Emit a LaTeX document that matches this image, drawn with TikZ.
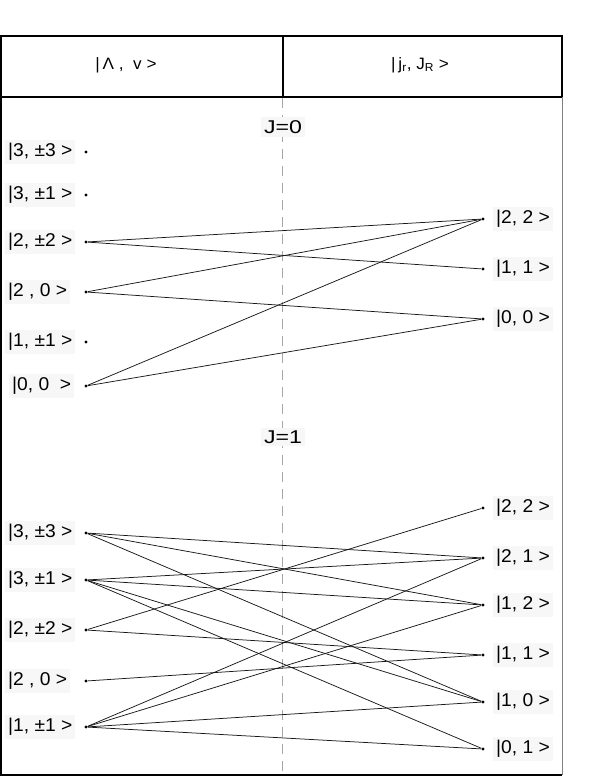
\documentclass[tikz,border=0pt]{standalone}
\usepackage{fontspec}
\setmainfont{Liberation Sans}
\newcommand{\wid}[1]{\scalebox{1.04}[1]{#1}}
\newcommand{\widJ}[1]{\scalebox{1.25}[1]{#1}}
\begin{document}
\begin{tikzpicture}[x=1pt,y=-1pt,
  dot/.style={circle,fill=black,inner sep=0pt,minimum size=3.2pt},
  lab/.style={fill=black!3,inner sep=3pt,font=\fontsize{18.5}{21}\selectfont},
  llab/.style={lab,anchor=west},
  rlab/.style={lab,anchor=west},
  hlab/.style={font=\fontsize{16.5}{18}\selectfont},
  conn/.style={line width=0.75pt,black!90}]
\useasboundingbox (0,0) rectangle (599,776);
% frame
\draw[line width=1.2pt] (1,36) rectangle (562,97);
\draw[line width=1.2pt] (283,36) -- (283,97);
\draw[line width=1.2pt] (1,97) -- (1,775) -- (562,775);
\draw[line width=0.8pt,black!50] (562,97) -- (562,775);
\draw[black!35,dashed,dash pattern=on 10pt off 7pt,line width=0.6pt] (282,98) -- (282,775);
\node[hlab] (h1) at (126,65) {\wid{|\,Λ ,\ \ v >}};
\node[hlab] (h2) at (420,65) {\wid{|\,j\textsubscript{r}, J\textsubscript{R} >}};
% J=0
\node[lab] (t0) at (283,127) {\widJ{J=0}};
\foreach \n/\y/\t/\xx in {a1/152/{|3, ±3 >}/5, a2/195/{|3, ±1 >}/5, a3/242/{|2, ±2 >}/5, a4/292/{|2 , 0 >}/5, a5/342/{|1, ±1 >}/5, a6/386/{|0, 0 \ >}/9}{
  \node[llab] (l\n) at (\xx,\y) {\wid{\t}};
  \node[dot] (\n) at (86,\y) {};
}
\foreach \n/\y/\t in {b1/219/{|2, 2 >}, b2/269/{|1, 1 >}, b3/319/{|0, 0 >}}{
  \node[dot] (\n) at (483,\y) {};
  \node[rlab] (l\n) at (493,\y) {\wid{\t}};
}
\draw[conn] (a3) -- (b1);
\draw[conn] (a3) -- (b2);
\draw[conn] (a4) -- (b1);
\draw[conn] (a4) -- (b3);
\draw[conn] (a6) -- (b1);
\draw[conn] (a6) -- (b3);
% J=1
\node[lab] (t1) at (283,437) {\widJ{J=1}};
\foreach \n/\y/\t in {c1/533/{|3, ±3 >}, c2/580/{|3, ±1 >}, c3/630/{|2, ±2 >}, c4/681/{|2 , 0 >}, c5/727/{|1, ±1 >}}{
  \node[llab] (l\n) at (5,\y) {\wid{\t}};
  \node[dot] (\n) at (86,\y) {};
}
\foreach \n/\y/\t in {d1/508/{|2, 2 >}, d2/558/{|2, 1 >}, d3/605/{|1, 2 >}, d4/655/{|1, 1 >}, d5/702/{|1, 0 >}, d6/749/{|0, 1 >}}{
  \node[dot] (\n) at (483,\y) {};
  \node[rlab] (l\n) at (493,\y) {\wid{\t}};
}
\foreach \s/\e in {c1/d2,c1/d3,c1/d5,c2/d2,c2/d3,c2/d5,c2/d6,c3/d1,c3/d4,c4/d4,c5/d2,c5/d3,c5/d5,c5/d6}{
  \draw[conn] (\s) -- (\e);
}
\end{tikzpicture}
\end{document}
